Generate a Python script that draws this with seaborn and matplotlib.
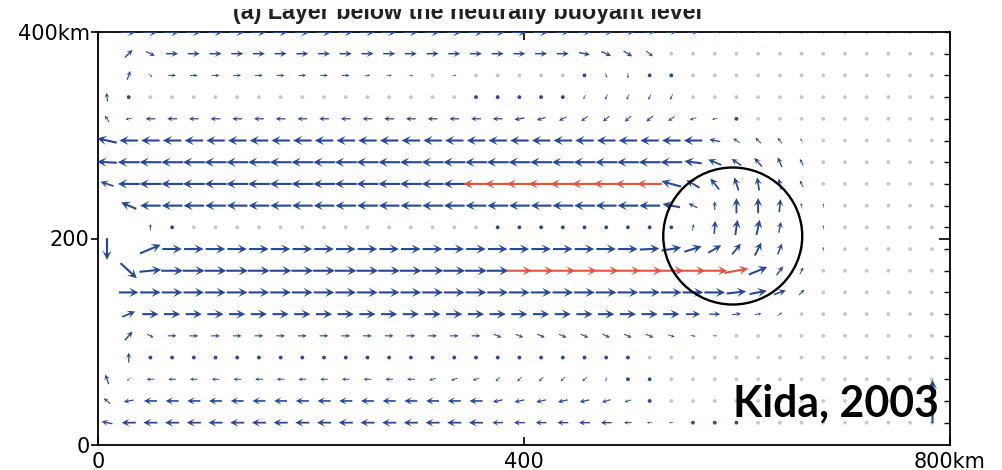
import numpy as np
import matplotlib
matplotlib.use("Agg")
import matplotlib.pyplot as plt
import seaborn as sns
from matplotlib.patches import Ellipse, Rectangle

n = np.nan   # no vector drawn at this grid point
g = 0.5      # near-zero (light grey dot)

# ---------------- text / ticks ----------------
title_text = "(a) Layer below the neutrally buoyant level"
credit_text = "Kida, 2003"
x_ticks = [0, 400, 800]
x_ticklabels = ["0", "400", "800km"]
y_ticks = [0, 200, 400]
y_ticklabels = ["0", "200", "400km"]

# ---------------- velocity field (rows top -> bottom, 39 columns west -> east) ----------------
# units: 10 = one grid spacing of arrow length
u_row00 = [n, 7, 7, 7, 7, 7, 7, 7, 7, 7,
           7, 7, 7, 7, 7, 7, 7, 7, 7, 7,
           7, 6, 6, 6, 6, 5, 5, 5, 3, 3,
           3, g, g, g, g, g, g, g, g]
v_row00 = [n, 0, 0, 0, 0, 0, 0, 0, 0, 0,
           0, 0, 0, 0, 0, 0, 0, 0, 0, 0,
           0, 0, 0, 0, 0, 0, 0, 0, 0, 0,
           0, 0, 0, 0, 0, 0, 0, 0, 0]
u_row01 = [n, 3.5, 4, 5.5, 5.5, 5.5, 5.5, 5.5, 5.5, 5.5,
           5.5, 5.5, 5.5, 5.5, 5.5, 5.5, 5.5, 5.5, 5.5, 5.5,
           5.5, 5.5, 5, 4.5, 4, 3, g, g, g, g,
           g, g, g, g, g, g, g, g, g]
v_row01 = [n, 3.5, -2, 0, 0, 0, 0, 0, 0, 0,
           0, 0, 0, 0, 0, 0, 0, 0, 0, 0,
           0, 0, -1, -2, -2.5, -2.5, 0, 0, 0, 0,
           0, 0, 0, 0, 0, 0, 0, 0, 0]
u_row02 = [n, 1.5, 1.5, 3.5, 3.5, 3.5, 3.5, 3.5, 3.5, 3.5,
           3.5, 3.5, 2.5, 2.5, 2, g, 2, g, g, g,
           g, g, 1, 0.5, 0, 0, 0, g, g, g,
           g, g, g, g, g, g, g, g, g]
v_row02 = [n, 4, -1.5, 0, 0, 0, 0, 0, 0, 0,
           0, 0, 0, 0, 0, 0, 0, 0, 0, 0,
           0, 0, -1.5, -2.2, -2.5, -1.8, -1.3, 0, 0, 0,
           0, 0, 0, 0, 0, 0, 0, 0, 0]
u_row03 = [-0.5, 1, g, g, g, g, g, g, g, g,
           g, g, g, g, g, g, g, -0.3, -0.3, -0.3,
           -0.3, -0.8, -1, -1.2, -1.2, -1.2, -1.2, g, g, g,
           g, g, g, g, g, g, g, g, g]
v_row03 = [4, -1.3, 0, 0, 0, 0, 0, 0, 0, 0,
           0, 0, 0, 0, 0, 0, 0, -1.2, -1.2, -1.2,
           -1.2, -1.6, -2, -2.5, -2.5, -2.5, -2.5, 0, 0, 0,
           0, 0, 0, 0, 0, 0, 0, 0, 0]
u_row04 = [-2, -3, -4.5, -4.5, -4.5, -4.5, -4.5, -4.5, -4.5, -4.5,
           -4.5, -4.5, -4.5, -4.5, -4.5, -4.5, -4.5, -4.5, -4.5, -4.5,
           -4, -3.5, -3, -3, -3, -3, -3, -3, -2.5, -1.5,
           g, g, g, g, g, g, g, g, g]
v_row04 = [3, -0.5, 0, 0, 0, 0, 0, 0, 0, 0,
           0, 0, 0, 0, 0, 0, 0, 0, 0, -0.8,
           -1.2, -1.8, -2.2, -2.5, -2.5, -2.5, -2, -1, -0.6, -0.3,
           0, 0, 0, 0, 0, 0, 0, 0, 0]
u_row05 = [-9, -8.5, -8.5, -8.5, -8.5, -8.5, -8.5, -8.5, -8.5, -8.5,
           -8.5, -8.5, -8.5, -8.5, -8.5, -8.5, -8.5, -8.5, -8.5, -8.5,
           -8.5, -8.5, -8.5, -8.5, -8.5, -8.5, -8.5, -8.5, -5, -3,
           -2.5, -2, -1, g, g, g, g, g, g]
v_row05 = [2, 0, 0, 0, 0, 0, 0, 0, 0, 0,
           0, 0, 0, 0, 0, 0, 0, 0, 0, 0,
           0, 0, 0, 0, 0, 0, 0, 0, 1, 2,
           2.5, 2.5, 2, 0, 0, 0, 0, 0, 0]
u_row06 = [-9, -10, -10, -10, -10, -10, -10, -10, -10, -10,
           -10, -10, -10, -10, -10, -10, -10, -10, -10, -10,
           -10, -10, -10, -10, -10, -10, -10, -8, -6, -4.5,
           -3.5, -2, -1.5, g, g, g, g, g, g]
v_row06 = [0.5, 0, 0, 0, 0, 0, 0, 0, 0, 0,
           0, 0, 0, 0, 0, 0, 0, 0, 0, 0,
           0, 0, 0, 0, 0, 0, 0, 1, 2.5, 3,
           4, 4.5, 3, 0, 0, 0, 0, 0, 0]
u_row07 = [-6, -10, -10, -10, -10, -10, -10, -10, -10, -10,
           -10, -10, -10, -10, -10, -10, -10, -11.5, -11.5, -11.5,
           -11.5, -11.5, -11.5, -11.5, -11.5, -11.5, -9, -6, -4, -2,
           -1, -1, -1.5, g, g, g, g, g, g]
v_row07 = [2, 0, 0, 0, 0, 0, 0, 0, 0, 0,
           0, 0, 0, 0, 0, 0, 0, 0, 0, 0,
           0, 0, 0, 0, 0, 0, 2.5, 3.5, 5, 6,
           6, 5, 3, 0, 0, 0, 0, 0, 0]
u_row08 = [n, -7, -9.5, -9.5, -9.5, -9.5, -9.5, -9.5, -9.5, -9.5,
           -9.5, -9.5, -9.5, -9.5, -9.5, -9.5, -9.5, -9.5, -9.5, -9.5,
           -9.5, -9.5, -9.5, -9.5, -9.5, -9.5, -8, -4, 0, 0,
           0, 0.5, -0.5, 0, g, g, g, g, g]
v_row08 = [n, 3, 0, 0, 0, 0, 0, 0, 0, 0,
           0, 0, 0, 0, 0, 0, 0, 0, 0, 0,
           0, 0, 0, 0, 0, 0, 1.5, 2, 4, 7,
           7, 6, 2.5, 2, 0, 0, 0, 0, 0]
u_row09 = [n, n, 0, 0.5, g, g, g, g, g, g,
           g, g, g, g, g, g, g, g, 1, 1,
           1, 1, 1, 1, 1, 1, -1, 0.5, 0.5, 1,
           1.5, 1, 0, 0, g, g, g, g, g]
v_row09 = [n, n, 3, 1, 0, 0, 0, 0, 0, 0,
           0, 0, 0, 0, 0, 0, 0, 0, 1.5, 1.5,
           1.5, 1.5, 1.5, 1.5, 1.5, 1.5, 1.5, 3, 6, 7,
           7, 5, 2, 2, 0, 0, 0, 0, 0]
u_row10 = [0, n, 9.5, 9, 9, 9, 9, 9, 9, 9,
           9, 9, 9, 9, 9, 9, 9, 9, 9, 9,
           9, 9, 9, 9, 9, 9, 9, 8, 6, 4,
           3, 2, 0.5, 0, g, g, g, g, g]
v_row10 = [-10, n, 4, 0, 0, 0, 0, 0, 0, 0,
           0, 0, 0, 0, 0, 0, 0, 0, 0, 0,
           0, 0, 0, 0, 0, 0.5, 1.5, 2.5, 3.5, 5,
           6, 5, 2.5, 2, 0, 0, 0, 0, 0]
u_row11 = [n, 7.5, 10, 10, 10, 10, 10, 10, 10, 10,
           10, 10, 10, 10, 10, 10, 10, 10, 10, 11.5,
           11.5, 11.5, 11.5, 11.5, 11.5, 11.5, 11.5, 11.5, 11.5, 11,
           8.5, 3, 1.5, g, g, g, g, g, g]
v_row11 = [n, -7, 1, 0, 0, 0, 0, 0, 0, 0,
           0, 0, 0, 0, 0, 0, 0, 0, 0, 0,
           0, 0, 0, 0, 0, 0, 0, 0, 0, 2,
           3.5, 4, 3, 0, 0, 0, 0, 0, 0]
u_row12 = [n, 9, 9.5, 9.5, 9.5, 9.5, 9.5, 9.5, 9.5, 9.5,
           9.5, 9.5, 9.5, 9.5, 9.5, 9.5, 9.5, 9.5, 9.5, 9.5,
           9.5, 9.5, 9.5, 9.5, 9.5, 9.5, 9.5, 9.5, 9.5, 9,
           8, 5.5, 2.5, g, g, g, g, g, g]
v_row12 = [n, 0, 0, 0, 0, 0, 0, 0, 0, 0,
           0, 0, 0, 0, 0, 0, 0, 0, 0, 0,
           0, 0, 0, 0, 0, 0, 0, 0, 0, 1,
           1.5, 2, 2.5, 0, 0, 0, 0, 0, 0]
u_row13 = [n, 6, 7.5, 7.5, 7.5, 7.5, 7.5, 7.5, 7.5, 7.5,
           7.5, 7.5, 7.5, 7.5, 7.5, 7.5, 7.5, 7.5, 7.5, 7.5,
           7.5, 7.5, 7.5, 7.5, 7.5, 7.5, 7.5, 6.5, 5, 4,
           3, 2, g, g, g, g, g, g, g]
v_row13 = [n, 2.5, 0, 0, 0, 0, 0, 0, 0, 0,
           0, 0, 0, 0, 0, 0, 0, 0, 0, 0,
           0, 0, 0, 0, 0, 0, 0, 0, 0, 0.5,
           0.5, 1.5, 0, 0, 0, 0, 0, 0, 0]
u_row14 = [n, 3.5, 3, 4, 4, 4, 4, 4, 4, 4,
           4, 4, 4, 4, 4, 4, 4, 4, 3.5, 3.5,
           3.5, 3.5, 3.5, 3.5, 3.5, 3.5, 3, 2.5, 2, g,
           g, g, g, g, g, g, g, g, g]
v_row14 = [n, 4, -1.5, 0, 0, 0, 0, 0, 0, 0,
           0, 0, 0, 0, 0, 0, 0, 0, -1.5, -1.5,
           -1.5, -1.5, -1.5, -1.5, -1.5, -1.5, -1, -0.5, 0, 0,
           0, 0, 0, 0, 0, 0, 0, 0, 0]
u_row15 = [n, 0, 1, 1.2, 1.2, 1.2, 1.2, 1.2, 1.2, 1.2,
           1.2, 1.2, 1.2, 1.2, 1.2, 1.2, 1.2, 1.2, 0.8, 0.8,
           0.8, 0.8, 0.8, 0.8, 0.8, g, g, g, g, g,
           g, g, g, g, g, g, g, g, g]
v_row15 = [n, 4.5, -1.5, 0, 0, 0, 0, 0, 0, 0,
           0, 0, 0, 0, 0, 0, 0, 0, -1.5, -1.5,
           -1.5, -1.5, -1.5, -1.5, -1.5, 0, 0, 0, 0, 0,
           0, 0, 0, 0, 0, 0, 0, 0, 0]
u_row16 = [-1.5, -1.5, -3.5, -3.5, -3.5, -3.5, -3.5, -3.5, -3.5, -3.5,
           -3.5, -3.5, -3.5, -3.5, -3.5, -3, -3, -3, -2, -2,
           -2, -2, -2, -0.5, -0.3, 0, g, g, g, g,
           g, g, g, g, g, g, g, g, g]
v_row16 = [4.5, -1.5, 0, 0, 0, 0, 0, 0, 0, 0,
           0, 0, 0, 0, 0, -1, -1, -1, -2, -2,
           -2, -2, -2, -2, -1.5, -1.2, 0, 0, 0, 0,
           0, 0, 0, 0, 0, 0, 0, 0, 0]
u_row17 = [-3, -4.5, -6, -6, -6, -6, -6, -6, -6, -6,
           -6, -6, -6, -6, -6, -6, -6, -6, -4.5, -4.5,
           -4.5, -4.5, -4.5, -4, -3, -1.5, g, g, g, g,
           g, g, g, g, g, g, g, g, g]
v_row17 = [2.5, -0.8, 0, 0, 0, 0, 0, 0, 0, 0,
           0, 0, 0, 0, 0, 0, 0, 0, -1, -1,
           -1, -1, -1, -1.2, -1, -0.8, 0, 0, 0, 0,
           0, 0, 0, 0, 0, 0, 0, 0, 0]
u_row18 = [-5, -6.5, -6.5, -6.5, -6.5, -6.5, -6.5, -6.5, -6.5, -6.5,
           -6.5, -6.5, -6.5, -6.5, -6.5, -6.5, -6.5, -6.5, -5, -5,
           -5, -5, -5, -5, -3.5, -2.5, -2, -1.5, -1.5, -1.5,
           g, g, g, g, g, g, g, g, g]
v_row18 = [1, 0, 0, 0, 0, 0, 0, 0, 0, 0,
           0, 0, 0, 0, 0, 0, 0, 0, 0, 0,
           0, 0, 0, 0, 0, 0, 0, 0, 0, 0,
           0, 0, 0, 0, 0, 0, 0, 0, 0]

# reference (key) vector at the lower right corner
key_col, key_row = 38, 17
key_u = [0]
key_v = [20]

# ---------------- assemble ----------------
U = np.array([u_row00, u_row01, u_row02, u_row03, u_row04, u_row05, u_row06,
              u_row07, u_row08, u_row09, u_row10, u_row11, u_row12, u_row13,
              u_row14, u_row15, u_row16, u_row17, u_row18], dtype=float)
V = np.array([v_row00, v_row01, v_row02, v_row03, v_row04, v_row05, v_row06,
              v_row07, v_row08, v_row09, v_row10, v_row11, v_row12, v_row13,
              v_row14, v_row15, v_row16, v_row17, v_row18], dtype=float)
nrow, ncol = U.shape
dx, dy = 20.38, 21.02          # grid spacing in km
xs = 8.45 + dx * np.arange(ncol)
ys = 400.0 - dy * np.arange(nrow)
X, Y = np.meshgrid(xs, ys)

sns.set_theme(style="white")
plt.rcParams["font.family"] = ["DejaVu Sans"]

fig = plt.figure(figsize=(10.03, 4.70), dpi=100)
ax = fig.add_axes([98 / 1003, 25 / 470, 852 / 1003, 413 / 470])
ax.set_xlim(0, 800)
ax.set_ylim(0, 400)

mag = np.hypot(U, V)
ok = np.isfinite(mag)
grey = ok & (mag < 1.0)
red = ok & (mag > 10.8)
blue = ok & ~grey & ~red

qkw = dict(units="dots", width=2.1, scale_units="dots", scale=10 / 21.7,
           angles="uv", pivot="middle", headwidth=4.4, headlength=4.4,
           headaxislength=2.9, minshaft=1.8, minlength=2.0)
ax.quiver(X[grey], Y[grey], U[grey], V[grey], color="#c8c8c8", zorder=2, **qkw)
ax.quiver(X[blue], Y[blue], U[blue], V[blue], color="#27499a", zorder=3, **qkw)
ax.quiver(X[red], Y[red], U[red], V[red], color="#e5553c", zorder=3, **qkw)
ax.quiver([xs[key_col]], [ys[key_row]], key_u, key_v, color="#27499a", zorder=11,
          **qkw)

# eddy circle
ax.add_patch(Ellipse((596, 202.4), 130.5, 132.7, fill=False, lw=1.7,
                     edgecolor="black", zorder=4))

# axes styling
for s in ax.spines.values():
    s.set_color("black")
    s.set_linewidth(1.3)
ax.set_xticks(x_ticks)
ax.set_xticklabels(x_ticklabels)
ax.set_yticks(y_ticks)
ax.set_yticklabels(y_ticklabels)
ax.tick_params(axis="x", which="major", direction="in", length=6, width=1.2,
               top=True, bottom=True, pad=5, labelsize=15, colors="black")
ax.tick_params(axis="y", which="major", direction="out", length=5, width=1.2,
               left=True, right=False, pad=1, labelsize=15, colors="black")
sec = ax.secondary_yaxis("right")
sec.set_yticks([200])
sec.set_yticks(list(ys), minor=True)
sec.tick_params(which="major", direction="in", length=8, width=1.2, labelright=False, colors="black")
sec.tick_params(which="minor", direction="in", length=4, width=1.0, labelright=False, colors="black")
sec.spines["right"].set_visible(False)

# texts
title = fig.text(468 / 1003, 1 - 19 / 470, title_text, ha="center", va="baseline",
                 fontsize=14, fontweight="bold", family=["Liberation Sans", "DejaVu Sans"],
                 color="#222222")
credit = fig.text(733 / 1003, 1 - 417 / 470, credit_text, ha="left", va="baseline",
                  fontsize=30, fontweight="bold", family=["Lato", "DejaVu Sans"],
                  color="black", zorder=10)

fig.canvas.draw()
r = fig.canvas.get_renderer()
for t, w in ((title, 470), (credit, 205)):
    bw = t.get_window_extent(r).width
    t.set_fontsize(t.get_fontsize() * w / bw)

# cropped top band of the scan
fig.patches.append(Rectangle((0, 1 - 9 / 470), 1, 9 / 470, transform=fig.transFigure,
                             facecolor="white", edgecolor="none", zorder=20))

fig.savefig("out.png", dpi=100)
